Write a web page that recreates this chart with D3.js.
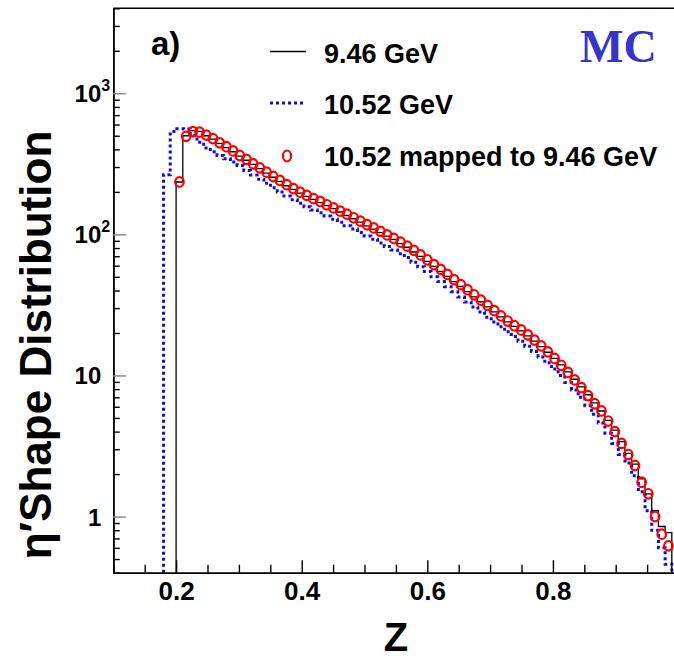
<!DOCTYPE html>
<html>
<head>
<meta charset="utf-8">
<script src="https://cdn.jsdelivr.net/npm/d3@7"></script>
<style>
  html, body { margin: 0; padding: 0; background: #fff; }
  svg { display: block; }
  text { font-family: "Liberation Sans", Arial, Helvetica, sans-serif; font-weight: bold; }
</style>
</head>
<body>
<svg class="vis" width="674" height="661"></svg>
<script>
// binning in z of the two histograms
const bins946 = { first: 0.20, width: 0.8 / 75 };
const bins1052 = { first: 0.18, width: 0.82 / 77 };

// 9.46 GeV MC, one value per bin
const counts946 = [
  235, 500, 543, 537, 500, 473, 442, 412, 385, 359,
  335, 313, 292, 272, 254, 237, 221, 208, 196, 186,
  177, 168, 160, 152, 144, 136, 129, 122, 115, 109,
  103, 97, 92, 86, 81, 75, 69.7, 64.3, 59.3, 54.7,
  50.4, 46.3, 42.7, 39.3, 36.1, 33.3, 30.6, 28.2, 26, 24,
  22.3, 20.7, 19.1, 17.5, 16, 14.6, 13.2, 11.9, 10.6, 9.4,
  8.3, 7.3, 6.4, 5.6, 4.8, 4.1, 3.4, 2.8, 2.35, 1.85,
  1.45, 1.1, 0.85, 0.77
];

// 10.52 GeV MC, one value per bin
const counts1052 = [
  265, 535, 560, 558, 500, 450, 410, 385, 362, 343,
  325, 308, 283, 263, 246, 230, 214, 200, 187, 176,
  166, 157, 149, 142, 135, 128, 122, 115, 109, 103,
  97.5, 92.5, 87, 82, 77.5, 73, 68.5, 63.5, 59, 54.5,
  50, 46.3, 42.6, 39.2, 36, 33.2, 30.6, 28.2, 25.9, 23.9,
  22.1, 20.4, 18.9, 17.5, 16.1, 14.8, 13.5, 12.3, 11.1, 10,
  8.9, 7.9, 7, 6.1, 5.3, 4.6, 3.9, 3.3, 2.75, 2.4,
  1.95, 1.5, 1.1, 0.8, 0.6, 0.46
];

// 10.52 GeV mapped to 9.46 GeV, at the 9.46 bin centres
const mapped1052 = [
  235, 495, 535, 530, 505, 477, 445, 418, 390, 362,
  340, 316, 296, 276, 257, 241, 225, 211, 199, 189,
  179, 171, 162, 154, 146, 139, 131, 124, 117, 111,
  105, 99, 93.5, 88, 82.5, 77, 71.5, 66, 61, 56.5,
  52, 47.8, 44, 40.5, 37.3, 34.2, 31.4, 28.8, 26.4, 24.3,
  22.5, 21, 19.4, 17.8, 16.2, 14.7, 13.2, 11.8, 10.5, 9.3,
  8.2, 7.2, 6.3, 5.6, 4.75, 4.0, 3.3, 2.75, 2.3, 1.75,
  1.45, 1.0, 0.75, 0.62
];

const xTicksMajor = [0.2, 0.4, 0.6, 0.8];
const yTicksMajor = [1, 10, 100, 1000];
const yTickLabels = [["1", ""], ["10", ""], ["10", "2"], ["10", "3"]];
const legendLabels = ["9.46 GeV", "10.52 GeV", "10.52 mapped to 9.46 GeV"];

const vis = {

    dims: { w: 674, h: 661, left: 113.3, right: 678.5, top: 8.3, bottom: 572.7 },

    sels: { svg: null },

    scales: { x: null, y: null },

    f: {

        setup: function() {
            vis.sels.svg = d3.select("svg.vis");
            vis.scales.x = d3.scaleLinear().domain([0.1, 1.0]).range([vis.dims.left, vis.dims.right]);
            vis.scales.y = d3.scaleLog().domain([0.4, 4000]).range([vis.dims.bottom, vis.dims.top]);
        },

        // step outline of a histogram, starting and ending on the x axis
        steps: function(bins, counts) {
            const floor = vis.scales.y.domain()[0];
            const pts = [{ z: bins.first, v: floor }];
            counts.forEach((c, i) => pts.push({ z: bins.first + i * bins.width, v: c }));
            const zEnd = bins.first + counts.length * bins.width;
            pts.push({ z: zEnd, v: counts[counts.length - 1] });
            pts.push({ z: zEnd, v: floor });
            return d3.line()
                .x(d => vis.scales.x(d.z))
                .y(d => vis.scales.y(Math.max(d.v, floor)))
                .curve(d3.curveStepAfter)(pts);
        }

    },

    draw: {

        axes: function() {
            const x = vis.scales.x, y = vis.scales.y, svg = vis.sels.svg;

            // minor ticks
            const xMinor = x.ticks(18).filter(t => !xTicksMajor.some(m => Math.abs(m - t) < 1e-6));
            svg.append("g")
                .attr("class", "x-minor")
                .attr("transform", `translate(0,${vis.dims.bottom})`)
                .call(d3.axisBottom(x).tickValues(xMinor).tickSize(-8).tickSizeOuter(0).tickFormat(""));

            const xAxis = svg.append("g")
                .attr("class", "x-major")
                .attr("transform", `translate(0,${vis.dims.bottom})`)
                .call(d3.axisBottom(x).tickValues(xTicksMajor).tickSize(-12.5).tickSizeOuter(0)
                    .tickFormat(d3.format(".1f")));
            xAxis.selectAll("text")
                .attr("y", 27).attr("dy", null)
                .style("font-size", "26px").attr("fill", "#000");

            const yMinor = y.ticks().filter(t => !yTicksMajor.includes(t));
            svg.append("g")
                .attr("class", "y-minor")
                .attr("transform", `translate(${vis.dims.left},0)`)
                .call(d3.axisLeft(y).tickValues(yMinor).tickSize(-6.5).tickSizeOuter(0).tickFormat(""));

            const yAxis = svg.append("g")
                .attr("class", "y-major")
                .attr("transform", `translate(${vis.dims.left},0)`)
                .call(d3.axisLeft(y).tickValues(yTicksMajor).tickSize(-12.5).tickSizeOuter(0).tickFormat(""));
            yAxis.selectAll(".tick line").attr("stroke", "#8a8a8a").attr("stroke-width", 1.5);

            yAxis.selectAll(".tick").each(function(d, i) {
                const g = d3.select(this);
                g.append("text")
                    .attr("x", -12).attr("y", 8.5)
                    .attr("text-anchor", "end")
                    .style("font-size", "24px")
                    .attr("fill", "#000")
                    .text(yTickLabels[i][0]);
                if (yTickLabels[i][1]) {
                    g.append("text")
                        .attr("x", -12).attr("y", -2.5)
                        .attr("text-anchor", "start")
                        .style("font-size", "16px")
                        .attr("fill", "#000")
                        .text(yTickLabels[i][1]);
                }
            });

            svg.selectAll(".domain").attr("stroke-width", 1.6);
            svg.selectAll(".x-minor .tick line, .x-major .tick line, .y-minor .tick line").attr("stroke-width", 1.4);

            // top and right edge of the frame
            svg.append("path")
                .attr("d", `M${vis.dims.left},${vis.dims.top}H${vis.dims.right}V${vis.dims.bottom}`)
                .attr("fill", "none").attr("stroke", "#000").attr("stroke-width", 1.6);

            svg.append("text")
                .attr("x", (vis.dims.left + vis.dims.right) / 2).attr("y", 651)
                .attr("text-anchor", "middle")
                .style("font-size", "40px")
                .text("Z");

            svg.append("text")
                .attr("transform", "translate(51,345) rotate(-90)")
                .attr("text-anchor", "middle")
                .style("font-size", "44px")
                .text("\u03B7\u2032Shape Distribution");
        },

        histograms: function() {
            const x = vis.scales.x, y = vis.scales.y, svg = vis.sels.svg;

            svg.append("path")
                .attr("d", vis.f.steps(bins1052, counts1052))
                .attr("fill", "none")
                .attr("stroke", "#0b0be6")
                .attr("stroke-width", 3)
                .attr("stroke-dasharray", "3,3");

            svg.append("path")
                .attr("d", vis.f.steps(bins946, counts946))
                .attr("fill", "none")
                .attr("stroke", "#000")
                .attr("stroke-width", 1.3);

            svg.append("g")
                .selectAll("ellipse")
                .data(mapped1052)
                .join("ellipse")
                .attr("cx", (d, i) => x(bins946.first + (i + 0.5) * bins946.width))
                .attr("cy", d => y(d))
                .attr("rx", 4.3)
                .attr("ry", 4.8)
                .attr("fill", "none")
                .attr("stroke", "#ff0000")
                .attr("stroke-width", 2.2);
        },

        legend: function() {
            const svg = vis.sels.svg;

            svg.append("text").attr("x", 151).attr("y", 55)
                .style("font-size", "33px").text("a)");

            svg.append("line").attr("x1", 270).attr("x2", 306).attr("y1", 51.5).attr("y2", 51.5)
                .attr("stroke", "#000").attr("stroke-width", 1.6);
            svg.append("line").attr("x1", 270).attr("x2", 304).attr("y1", 103).attr("y2", 103)
                .attr("stroke", "#0b0be6").attr("stroke-width", 3).attr("stroke-dasharray", "3,3");
            svg.append("ellipse").attr("cx", 287).attr("cy", 156).attr("rx", 4).attr("ry", 5.5)
                .attr("fill", "none").attr("stroke", "#ff0000").attr("stroke-width", 2.2);

            svg.selectAll("text.leg")
                .data(legendLabels)
                .join("text")
                .attr("class", "leg")
                .attr("x", 324)
                .attr("y", (d, i) => [63, 114, 166][i])
                .style("font-size", "27px")
                .text(d => d);

            svg.append("text").attr("x", 580).attr("y", 62)
                .style("font-family", "'Liberation Serif', 'Times New Roman', serif")
                .style("font-size", "46px")
                .attr("fill", "#3535c8")
                .text("MC");
        }

    },

    control: {
        init: function() {
            vis.f.setup();
            vis.draw.histograms();
            vis.draw.axes();
            vis.draw.legend();
        }
    }

};

vis.control.init();
</script>
</body>
</html>
